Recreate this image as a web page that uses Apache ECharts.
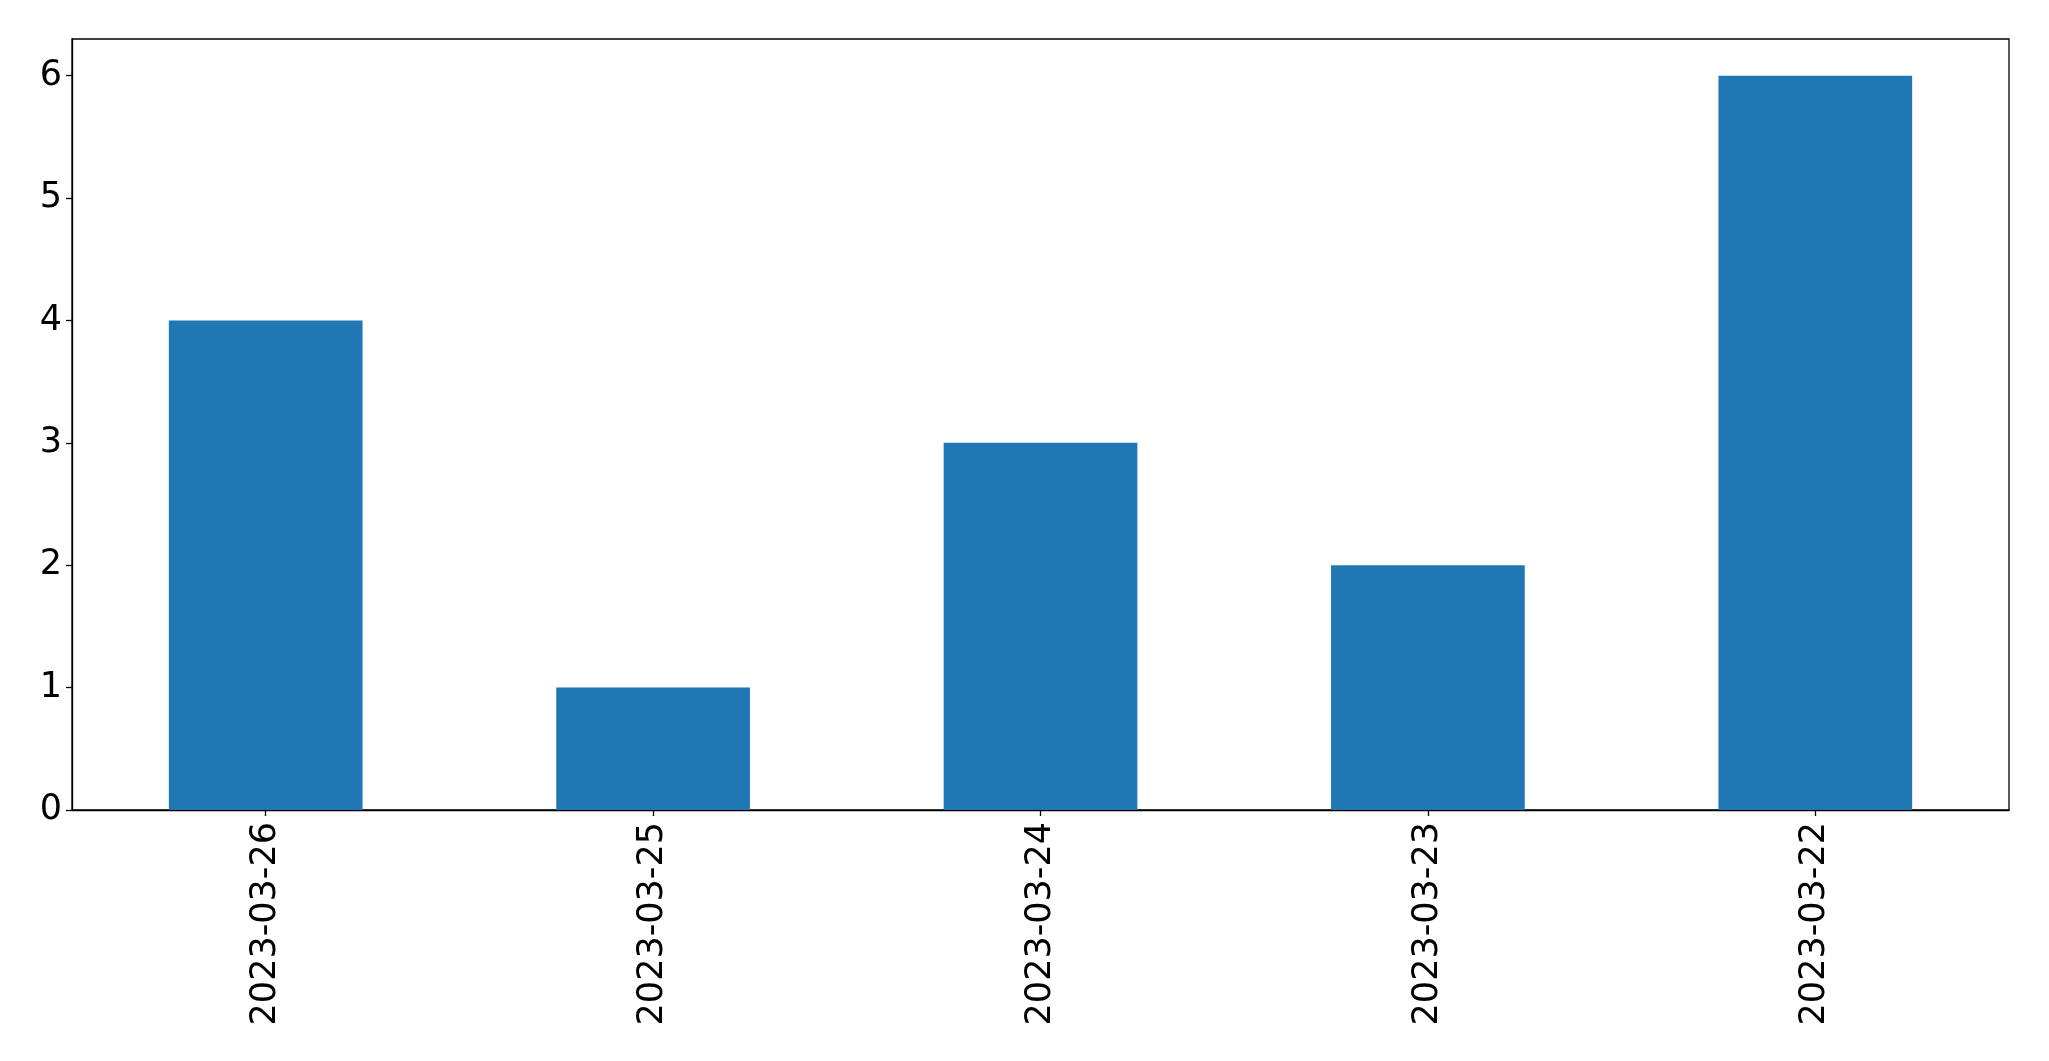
<!DOCTYPE html>
<html>
<head>
<meta charset="utf-8">
<script src="https://cdn.jsdelivr.net/npm/echarts@6/dist/echarts.min.js"></script>
<style>
html,body{margin:0;padding:0;background:#fff;}
#chart{width:2049px;height:1061px;}
</style>
</head>
<body>
<div id="chart"></div>
<script>
const categories = ['2023-03-26', '2023-03-25', '2023-03-24', '2023-03-23', '2023-03-22'];
const values = [4, 1, 3, 2, 6];
const yTicks = [0, 1, 2, 3, 4, 5, 6];

const chart = echarts.init(document.getElementById('chart'), null, {renderer: 'canvas'});
const font = 'DejaVu Sans';
chart.setOption({
  animation: false,
  backgroundColor: '#ffffff',
  grid: {
    left: 72, right: 40, top: 39, bottom: 251,
    show: true, borderColor: '#000', borderWidth: 1.3, backgroundColor: 'transparent',
    containLabel: false
  },
  xAxis: {
    type: 'category',
    data: categories,
    boundaryGap: true,
    axisLine: {show: true, lineStyle: {color: '#000', width: 1.3}},
    axisTick: {show: true, alignWithLabel: true, length: 6, lineStyle: {color: '#000', width: 1.3}},
    axisLabel: {rotate: 90, margin: 12, color: '#000', fontSize: 35, fontFamily: font},
    splitLine: {show: false}
  },
  yAxis: {
    type: 'value',
    min: 0, max: 6.3, interval: 1,
    axisLine: {show: true, lineStyle: {color: '#000', width: 1.3}},
    axisTick: {show: true, length: 6, lineStyle: {color: '#000', width: 1.3}, customValues: yTicks},
    axisLabel: {margin: 10, color: '#000', fontSize: 35, fontFamily: font, customValues: yTicks},
    splitLine: {show: false}
  },
  series: [{
    type: 'bar',
    data: values,
    barWidth: '50%',
    itemStyle: {color: '#1f77b4'}
  }]
});
</script>
</body>
</html>
